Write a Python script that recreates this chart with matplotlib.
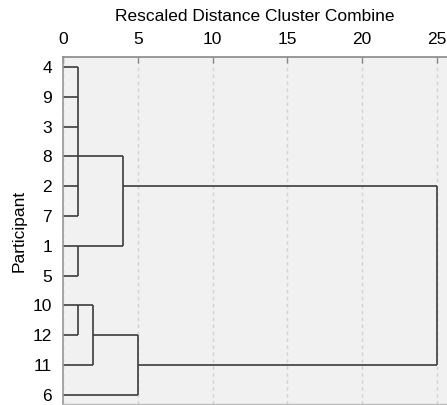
import matplotlib.pyplot as plt

plt.rcParams['font.family'] = ['Liberation Sans', 'DejaVu Sans']

# Leaf order from top to bottom
participants = ['4', '9', '3', '8', '2', '7', '1', '5', '10', '12', '11', '6']

# Merges: (name, children, rescaled distance, row where the joined line leaves)
merge_names = ['A', 'B', 'C', 'D', 'E', 'F', 'G']
merge_children = [['4', '9', '3', '8', '2', '7'], ['1', '5'], ['A', 'B'],
                  ['10', '12'], ['D', '11'], ['E', '6'], ['C', 'F']]
merge_heights = [1.0, 1.0, 4.0, 1.0, 2.0, 5.0, 25.0]
merge_out_rows = [3, 6, 4, 8, 9, 10, None]

line_col = '#3c3c3c'

fig = plt.figure(figsize=(4.47, 4.05), dpi=100)
ax = fig.add_axes([0.141, 0.003, 0.859, 0.856])
ax.set_facecolor('#f0f1f0')

# position (row, height) of each node's outgoing line
pos = {p: (i, 0.0) for i, p in enumerate(participants)}
for name, kids, h, out in zip(merge_names, merge_children, merge_heights, merge_out_rows):
    rows = []
    for k in kids:
        r, x0 = pos[k]
        ax.plot([x0, h], [r, r], color=line_col, lw=1.2, solid_capstyle='butt')
        rows.append(r)
    ax.plot([h, h], [min(rows), max(rows)], color=line_col, lw=1.2, solid_capstyle='butt')
    if out is not None:
        pos[name] = (out, h)

ax.set_xlim(0, 25.67)
ax.set_ylim(11.3, -0.335)
ax.set_xticks([0, 5, 10, 15, 20, 25])
ax.set_yticks(range(len(participants)))
ax.set_yticklabels(participants)
ax.xaxis.tick_top()
ax.xaxis.set_label_position('top')
ax.set_xlabel('Rescaled Distance Cluster Combine', fontsize=12.5, labelpad=8)
ax.set_ylabel('Participant', fontsize=12.5, labelpad=4)
ax.tick_params(axis='x', direction='in', length=4, width=1, color='#888888',
               labelsize=12.5, pad=7)
ax.tick_params(axis='y', length=0, labelsize=12.5, pad=8)
ax.grid(axis='x', color='#d2d2d2', linestyle=(0, (2.5, 2.5)), lw=1)
ax.set_axisbelow(True)

ax.spines['right'].set_visible(False)
ax.spines['top'].set_color('#888888')
ax.spines['left'].set_color('#999999')
ax.spines['bottom'].set_color('#bbbbbb')
ax.spines['top'].set_linewidth(1.2)
ax.spines['left'].set_linewidth(1.2)
ax.spines['bottom'].set_linewidth(1)

fig.savefig('out.png', dpi=100)
